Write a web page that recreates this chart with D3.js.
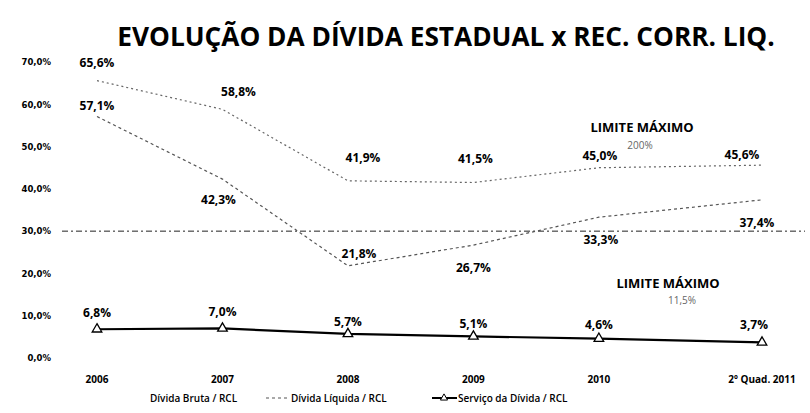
<!DOCTYPE html>
<html>
<head>
<meta charset="utf-8">
<script src="https://cdn.jsdelivr.net/npm/d3@7/dist/d3.min.js"></script>
<style>
  html, body { margin: 0; padding: 0; background: #fff; }
  svg { display: block; }
  text { font-family: "Open Sans", "Noto Sans", sans-serif; fill: #000; }
</style>
</head>
<body>
<svg id="chart" width="810" height="413"></svg>
<script>
// Periods and their positions along the time axis (last one is a partial year)
const periodos = ["2006", "2007", "2008", "2009", "2010", "2º Quad. 2011"];
const posicao = [0, 1, 2, 3, 4, 5.3];

// Ratios to net current revenue (%)
const dividaBruta = [65.6, 58.8, 41.9, 41.5, 45.0, 45.6];
const dividaLiquida = [57.1, 42.3, 21.8, 26.7, 33.3, 37.4];
const servicoDivida = [6.8, 7.0, 5.7, 5.1, 4.6, 3.7];

const yTicks = [0, 10, 20, 30, 40, 50, 60, 70];
const linhaReferencia = 30;

const seriesNomes = ["Dívida Bruta / RCL", "Dívida Líquida / RCL", "Serviço da Dívida / RCL"];

const fmt = v => d3.format(".1f")(v).replace(".", ",") + "%";

const svg = d3.select("#chart");

const x = d3.scaleLinear().domain([0, 5.3]).range([97, 762]);
const y = d3.scaleLinear().domain([0, 70]).range([358, 62]);

// Title, shrunk to fit its span
const title = svg.append("text")
  .attr("x", 446).attr("y", 46)
  .attr("text-anchor", "middle")
  .style("font-weight", 700)
  .style("font-size", "22px")
  .text("EVOLUÇÃO DA DÍVIDA ESTADUAL x REC. CORR. LIQ.");
const tw = title.node().getComputedTextLength();
title.style("font-size", (22 * 658 / tw) + "px");

// Y axis labels (no axis line)
const yAxis = d3.axisLeft(y).tickValues(yTicks).tickSize(0)
  .tickFormat(d => d3.format(".1f")(d).replace(".", ",") + "%");
const gy = svg.append("g").attr("transform", "translate(51,0)").call(yAxis);
gy.select(".domain").remove();
gy.selectAll("text")
  .attr("x", 0)
  .style("font-family", "Verdana, 'DejaVu Sans', sans-serif")
  .style("font-size", "8.5px")
  .style("font-weight", 700)
  .style("fill", "#000");

// Reference dashed line at 30%
svg.append("line")
  .attr("x1", 62).attr("x2", 805)
  .attr("y1", y(linhaReferencia)).attr("y2", y(linhaReferencia))
  .attr("stroke", "#222").attr("stroke-width", 1)
  .attr("stroke-dasharray", "6,3,2,3");

// X axis category labels
const gx = svg.append("g");
periodos.forEach((p, i) => {
  gx.append("text")
    .attr("x", x(posicao[i])).attr("y", 383)
    .attr("text-anchor", "middle")
    .style("font-size", "10px").style("font-weight", 700)
    .text(p);
});

const line = d3.line().x((d, i) => x(posicao[i])).y(d => y(d));

// Gross debt: fine dotted grey line
svg.append("path").datum(dividaBruta)
  .attr("d", line).attr("fill", "none")
  .attr("stroke", "#666").attr("stroke-width", 1.2)
  .attr("stroke-dasharray", "2,3");

// Net debt: dotted line
svg.append("path").datum(dividaLiquida)
  .attr("d", line).attr("fill", "none")
  .attr("stroke", "#555").attr("stroke-width", 1.2)
  .attr("stroke-dasharray", "3,3");

// Debt service: solid line with triangle markers
svg.append("path").datum(servicoDivida)
  .attr("d", line).attr("fill", "none")
  .attr("stroke", "#000").attr("stroke-width", 2.2);

const tri = d3.symbol().type(d3.symbolTriangle).size(40);
svg.append("g").selectAll("path").data(servicoDivida).join("path")
  .attr("transform", (d, i) => `translate(${x(posicao[i])},${y(d)})`)
  .attr("d", tri)
  .attr("fill", "#fff").attr("stroke", "#000").attr("stroke-width", 1.3);

// Data labels, offset from their points
function labels(values, dx, dy) {
  svg.append("g").selectAll("text").data(values).join("text")
    .attr("x", (d, i) => x(posicao[i]) + dx[i])
    .attr("y", (d, i) => y(d) + dy[i])
    .attr("text-anchor", "middle")
    .style("font-size", "12px").style("font-weight", 700)
    .text(d => fmt(d));
}
labels(dividaBruta, [0, 16, 15, 2, 1, -20], [-14, -13, -19, -20, -8, -6]);
labels(dividaLiquida, [0, -4, 11, 0, 2, -5], [-7, 25, -8, 27, 27, 27]);
labels(servicoDivida, [0, 0, 0, 0, 0, -8], [-12, -12, -8, -8, -10, -13]);

// Limit annotations
const lim = [
  { t: "LIMITE MÁXIMO", x: 642, y: 132, s: 13 },
  { t: "200%", x: 640, y: 149, s: 10 },
  { t: "LIMITE MÁXIMO", x: 668, y: 288, s: 13 },
  { t: "11,5%", x: 682, y: 304, s: 10 }
];
lim.forEach(l => {
  svg.append("text")
    .attr("x", l.x).attr("y", l.y)
    .attr("text-anchor", "middle")
    .style("font-size", l.s + "px")
    .style("font-weight", l.s > 11 ? 700 : 400)
    .style("fill", l.s > 11 ? "#000" : "#666")
    .text(l.t);
});

// Legend
const leg = svg.append("g");
leg.append("text").attr("x", 150).attr("y", 402)
  .style("font-size", "10px").style("font-weight", 600).text(seriesNomes[0]);
leg.append("line").attr("x1", 266).attr("x2", 290).attr("y1", 398).attr("y2", 398)
  .attr("stroke", "#555").attr("stroke-width", 1.2).attr("stroke-dasharray", "3,3");
leg.append("text").attr("x", 291).attr("y", 402)
  .style("font-size", "10px").style("font-weight", 600).text(seriesNomes[1]);
leg.append("line").attr("x1", 432).attr("x2", 457).attr("y1", 398).attr("y2", 398)
  .attr("stroke", "#000").attr("stroke-width", 2);
leg.append("path").attr("transform", "translate(444,398)")
  .attr("d", d3.symbol().type(d3.symbolTriangle).size(22))
  .attr("fill", "#fff").attr("stroke", "#000").attr("stroke-width", 1);
leg.append("text").attr("x", 458).attr("y", 402)
  .style("font-size", "10px").style("font-weight", 600).text(seriesNomes[2]);
</script>
</body>
</html>
